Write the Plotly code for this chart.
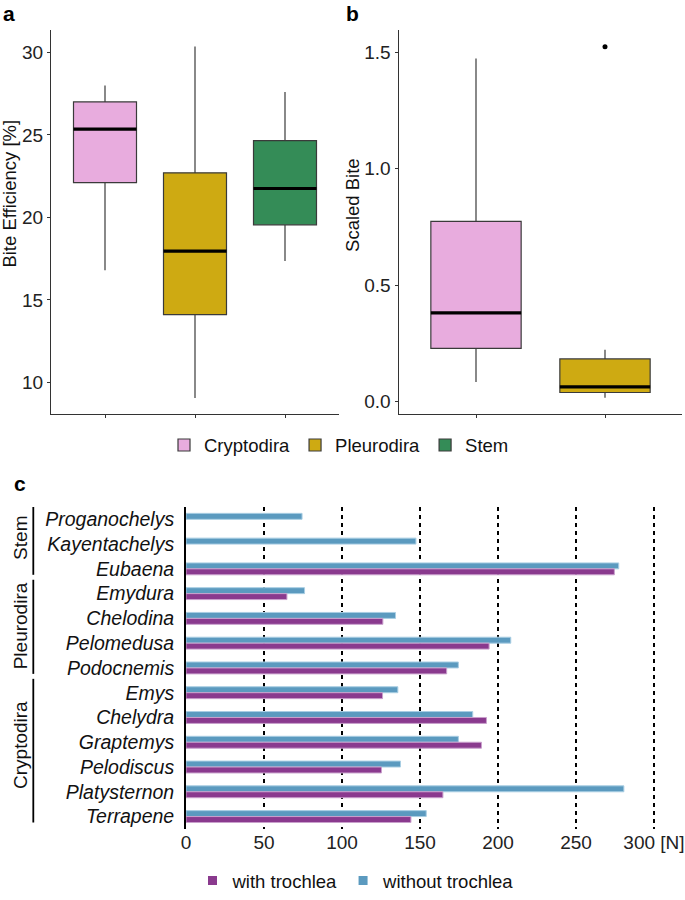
import plotly.graph_objects as go

# ---------------- data ----------------
groups_a = ["Cryptodira", "Pleurodira", "Stem"]
a_lower = [16.8, 9.05, 17.35]
a_q1 = [22.1, 14.1, 19.55]
a_median = [25.35, 17.95, 21.75]
a_q3 = [27.0, 22.7, 24.65]
a_upper = [28.0, 30.35, 27.6]

groups_b = ["Cryptodira", "Pleurodira"]
b_lower = [0.085, 0.017]
b_q1 = [0.229, 0.040]
b_median = [0.381, 0.064]
b_q3 = [0.774, 0.184]
b_upper = [1.472, 0.223]
b_outlier_group = [1]
b_outlier_value = [1.523]

species = ["Proganochelys", "Kayentachelys", "Eubaena", "Emydura", "Chelodina",
           "Pelomedusa", "Podocnemis", "Emys", "Chelydra", "Graptemys",
           "Pelodiscus", "Platysternon", "Terrapene"]
without_trochlea = [74.4, 147.4, 277.4, 76.0, 134.3, 208.2, 174.6, 135.8,
                    183.8, 174.6, 137.5, 280.7, 154.0]
with_trochlea = [None, None, 274.6, 64.7, 126.2, 194.3, 167.1, 126.0,
                 192.6, 189.4, 125.3, 164.7, 144.2]

clades = ["Stem", "Pleurodira", "Cryptodira"]
clade_start = [0, 3, 7]
clade_end = [2, 6, 12]

ticks_a = [10, 15, 20, 25, 30]
ticks_b = [0.0, 0.5, 1.0, 1.5]
ticks_b_text = ["0.0", "0.5", "1.0", "1.5"]
ticks_c = [0, 50, 100, 150, 200, 250, 300]
ticks_c_text = ["0", "50", "100", "150", "200", "250", "300 [N]"]

# ---------------- style ----------------
FONT = "Liberation Sans, Arial, sans-serif"
box_colors = {"Cryptodira": "#E8ACDE", "Pleurodira": "#CEAA12", "Stem": "#348C57"}
BLUE = "#5B9ABF"
BLUE_EDGE = "#A9CEE3"
PURPLE = "#8A3A8E"
PURPLE_EDGE = "#C9A0CC"
W, H = 685, 900

def px_x(p):
    return p / W

def px_y(p):
    return 1 - p / H

fig = go.Figure()

def add_boxes(groups, lo, q1, med, q3, hi, xa, ya, legend):
    for i, g in enumerate(groups):
        fig.add_trace(go.Box(
            x=[i], q1=[q1[i]], median=[med[i]], q3=[q3[i]],
            lowerfence=[lo[i]], upperfence=[hi[i]],
            name=g, legendgroup=g, showlegend=legend,
            fillcolor=box_colors[g], line=dict(color="#3a3a3a", width=1.2),
            width=0.7, whiskerwidth=0, boxpoints=False,
            xaxis=xa, yaxis=ya, hoverinfo="skip"))
        # thick black median line
        fig.add_trace(go.Box(
            x=[i], q1=[med[i]], median=[med[i]], q3=[med[i]],
            lowerfence=[med[i]], upperfence=[med[i]],
            showlegend=False, fillcolor="rgba(0,0,0,0)",
            line=dict(color="black", width=3.2), width=0.7, whiskerwidth=0,
            boxpoints=False, xaxis=xa, yaxis=ya, hoverinfo="skip"))

add_boxes(groups_a, a_lower, a_q1, a_median, a_q3, a_upper, "x", "y", True)
add_boxes(groups_b, b_lower, b_q1, b_median, b_q3, b_upper, "x2", "y2", False)

fig.add_trace(go.Scatter(x=b_outlier_group, y=b_outlier_value, mode="markers",
                         marker=dict(color="black", size=5), showlegend=False,
                         xaxis="x2", yaxis="y2", hoverinfo="skip"))

# bars (panel c)
fig.add_trace(go.Bar(y=species, x=without_trochlea, orientation="h",
                     marker=dict(color=BLUE, line=dict(color=BLUE_EDGE, width=1)),
                     showlegend=False, xaxis="x3", yaxis="y3"))
fig.add_trace(go.Bar(y=species, x=with_trochlea, orientation="h",
                     marker=dict(color=PURPLE, line=dict(color=PURPLE_EDGE, width=1)),
                     showlegend=False, xaxis="x3", yaxis="y3"))
# legend entries for panel c
fig.add_trace(go.Scatter(x=[None], y=[None], mode="markers", name="with trochlea",
                         marker=dict(symbol="square", size=9, color=PURPLE),
                         legend="legend2", legendrank=1, xaxis="x3", yaxis="y3"))
fig.add_trace(go.Scatter(x=[None], y=[None], mode="markers", name="without trochlea",
                         marker=dict(symbol="square", size=9, color=BLUE),
                         legend="legend2", legendrank=2, xaxis="x3", yaxis="y3"))

axis_common = dict(showline=True, linecolor="#333333", linewidth=1.2,
                   ticks="outside", ticklen=3, tickcolor="#333333",
                   showgrid=False, zeroline=False, automargin=False,
                   tickfont=dict(family=FONT, size=19, color="#222222"))

ydom_ab = [px_y(419.3), px_y(30)]

fig.update_layout(
    width=W, height=H, autosize=False,
    margin=dict(l=0, r=0, t=0, b=0),
    paper_bgcolor="white", plot_bgcolor="white",
    font=dict(family=FONT, color="black"),
    barmode="group", bargap=0.52, bargroupgap=0,
    xaxis=dict(domain=[px_x(51), px_x(339)], range=[-0.6, 2.6],
               tickvals=list(range(len(groups_a))), ticktext=[""] * len(groups_a),
               anchor="y", **axis_common),
    yaxis=dict(domain=ydom_ab, range=[8.07, 31.38], tickvals=ticks_a,
               anchor="x", **axis_common),
    xaxis2=dict(domain=[px_x(398.6), px_x(682.4)], range=[-0.6, 1.6],
                tickvals=list(range(len(groups_b))), ticktext=[""] * len(groups_b),
                anchor="y2", **axis_common),
    yaxis2=dict(domain=ydom_ab, range=[-0.053, 1.596], tickvals=ticks_b,
                ticktext=ticks_b_text, anchor="x2", **axis_common),
    xaxis3=dict(domain=[px_x(186), px_x(672.7)], range=[0, 312],
                tickvals=ticks_c, ticktext=ticks_c_text,
                showgrid=True, gridcolor="black", griddash="4px,4px", gridwidth=1.8,
                zeroline=False, showline=False, ticks="", automargin=False,
                tickfont=dict(family=FONT, size=19, color="#222222"), anchor="y3"),
    yaxis3=dict(domain=[px_y(839.2), px_y(513.2)], type="category",
                categoryorder="array", categoryarray=species,
                range=[len(species) - 0.5, -0.5],
                showline=True, linecolor="black", linewidth=1.8, ticks="",
                showgrid=False, zeroline=False, ticklabelstandoff=6, automargin=False,
                tickfont=dict(family=FONT, size=19.5, color="#111111", style="italic"),
                anchor="x3"),
    legend=dict(orientation="h", x=px_x(339), xanchor="center",
                y=px_y(451), yanchor="middle",
                font=dict(family=FONT, size=18.5, color="#111111"),
                bgcolor="rgba(0,0,0,0)"),
    legend2=dict(orientation="h", x=px_x(356), xanchor="center",
                 y=px_y(892), yanchor="middle", traceorder="normal",
                 font=dict(family=FONT, size=18.5, color="#111111"),
                 bgcolor="rgba(0,0,0,0)"),
)

# panel letters and axis titles
annos = [
    dict(text="<b>a</b>", x=px_x(9), y=px_y(0), size=21),
    dict(text="<b>b</b>", x=px_x(353), y=px_y(0), size=21),
    dict(text="<b>c</b>", x=px_x(20), y=px_y(476), size=21),
]
for a in annos:
    fig.add_annotation(text=a["text"], x=a["x"], y=a["y"], xref="paper", yref="paper",
                       xanchor="center", yanchor="top", showarrow=False,
                       font=dict(family=FONT, size=a["size"], color="black"))

fig.add_annotation(text="Bite Efficiency [%]", x=px_x(10), y=px_y(196), xref="paper",
                   yref="paper", textangle=-90, showarrow=False, xanchor="center",
                   yanchor="middle", font=dict(family=FONT, size=18.5, color="#111111"))
fig.add_annotation(text="Scaled Bite", x=px_x(353), y=px_y(207.5), xref="paper",
                   yref="paper", textangle=-90, showarrow=False, xanchor="center",
                   yanchor="middle", font=dict(family=FONT, size=18.5, color="#111111"))

# clade brackets for panel c
label_shift = [0.23, 0.2, 0.37]
for name, s, e, sh in zip(clades, clade_start, clade_end, label_shift):
    fig.add_shape(type="line", xref="paper", yref="y3",
                  x0=px_x(33.3), x1=px_x(33.3), y0=s - 0.56, y1=e + 0.24,
                  line=dict(color="black", width=1.8))
    fig.add_annotation(text=name, xref="paper", yref="y3", x=px_x(20.5),
                       y=(s + e) / 2 - sh, textangle=-90, showarrow=False,
                       xanchor="center", yanchor="middle",
                       font=dict(family=FONT, size=19, color="#111111"))

fig.write_html("out.html", config={"displayModeBar": False},
               post_script="document.body.style.margin='0px';")
